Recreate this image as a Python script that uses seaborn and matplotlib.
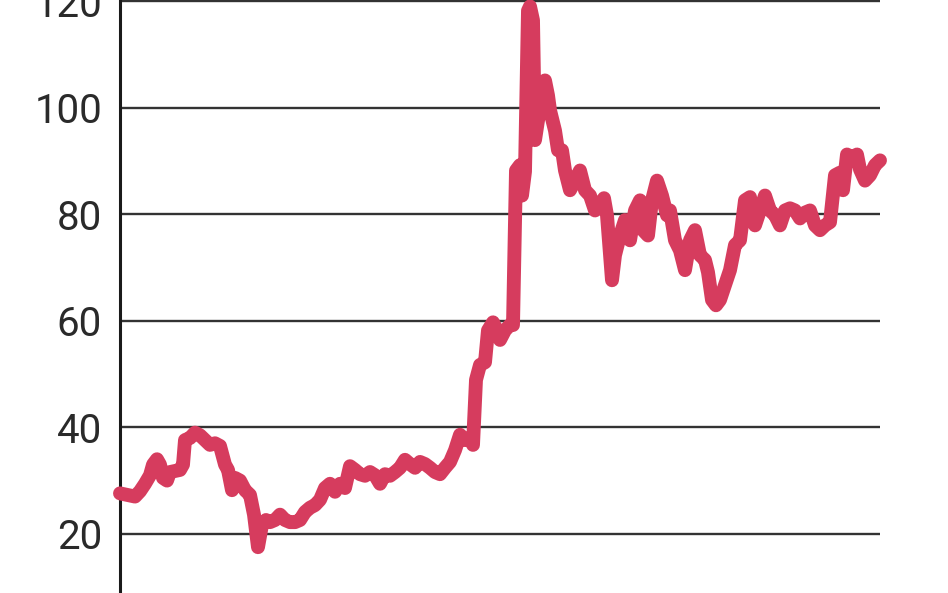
import matplotlib
matplotlib.use("Agg")
import matplotlib.pyplot as plt
import seaborn as sns
import pandas as pd

# time axis (arbitrary units, position along the period) and price values
period = [0, 10, 15, 20, 25, 30, 33, 37, 40, 43, 47, 50, 55, 60, 63, 65, 70, 75,
          80, 85, 90, 95, 100, 105, 108, 112, 115, 120, 125, 130, 134, 138, 142,
          146, 150, 155, 160, 165, 170, 175, 180, 185, 190, 195, 200, 205, 210,
          215, 220, 225, 230, 235, 240, 245, 250, 255, 260, 265, 270, 275, 280,
          285, 290, 295, 300, 305, 310, 315, 320, 325, 330, 335, 340, 345, 350,
          353, 356, 360, 365, 368, 373, 377, 380, 385, 390, 393, 396, 400, 402,
          405, 408, 410, 413, 415, 418, 422, 425, 428, 430, 435, 438, 442, 445,
          450, 455, 460, 465, 470, 475, 480, 484, 487, 492, 495, 500, 505, 510,
          515, 520, 523, 528, 532, 537, 542, 547, 550, 555, 560, 565, 570, 575,
          580, 585, 588, 592, 596, 600, 605, 610, 615, 620, 625, 630, 635, 640,
          645, 650, 655, 660, 665, 670, 675, 680, 685, 690, 695, 700, 705, 710,
          715, 720, 723, 727, 732, 737, 740, 745, 750, 755, 760]
price = [27.6, 27.2, 27.0, 28.0, 29.4, 31.0, 33.0, 34.0, 33.0, 30.5, 30.0, 31.6,
         31.8, 32.0, 33.0, 37.6, 38.0, 39.0, 38.5, 37.6, 36.7, 37.0, 36.5, 33.0,
         32.0, 28.2, 30.5, 30.0, 28.2, 27.3, 23.6, 17.5, 21.7, 22.6, 22.2, 22.6,
         23.6, 22.6, 22.2, 22.2, 22.6, 24.1, 24.9, 25.4, 26.4, 28.6, 29.4, 27.9,
         29.4, 28.6, 32.7, 32.0, 31.2, 30.9, 31.6, 31.0, 29.4, 31.2, 30.9, 31.6,
         32.4, 33.9, 33.1, 32.4, 33.5, 33.1, 32.4, 31.6, 31.2, 32.4, 33.5, 35.7,
         38.6, 37.6, 38.0, 36.7, 48.9, 51.7, 52.2, 58.2, 59.7, 58.2, 56.4, 58.2,
         59.2, 59.2, 88.2, 89.2, 83.5, 88.0, 118.2, 119.0, 116.4, 93.9, 97.6,
         101.3, 105.1, 102.3, 99.5, 95.7, 92.0, 92.0, 88.2, 84.5, 86.3, 88.2,
         84.5, 83.5, 80.7, 81.7, 83.0, 79.8, 67.6, 72.3, 76.0, 78.9, 75.1, 80.7,
         82.6, 77.0, 76.0, 82.6, 86.3, 83.5, 79.8, 80.7, 75.1, 73.2, 69.5, 75.1,
         77.0, 72.3, 71.4, 69.1, 63.9, 62.9, 63.9, 66.7, 69.5, 74.2, 75.1, 82.6,
         83.2, 77.9, 80.7, 83.5, 80.7, 79.8, 77.9, 80.7, 81.1, 80.7, 79.2, 80.3,
         80.7, 77.9, 77.0, 77.9, 78.5, 87.3, 87.8, 84.5, 91.2, 90.6, 91.2, 88.4,
         86.3, 87.3, 89.2, 90.1]
y_ticks = [20, 40, 60, 80, 100, 120]
y_tick_labels = ["20", "40", "60", "80", "100", "120"]

df = pd.DataFrame({"period": period, "price": price})

sns.set_style("white")
plt.rcParams["font.family"] = ["Roboto", "DejaVu Sans"]

fig = plt.figure(figsize=(9.48, 5.93), dpi=100)
ax = fig.add_axes([120 / 948, 0.0, 760 / 948, 1.0])

for yv in y_ticks:
    ax.axhline(yv, color="#333333", lw=1.7, zorder=1)

sns.lineplot(data=df, x="period", y="price", ax=ax, color="#d63c5e", lw=10,
             solid_joinstyle="round", solid_capstyle="round", zorder=3,
             clip_on=False)

ax.set_xlim(min(period), max(period))
ax.set_ylim(8.9, 120.2)
ax.set_yticks(y_ticks)
ax.set_yticklabels(y_tick_labels, fontsize=29, color="#2a2a2a",
                   fontweight="normal", fontstretch="condensed")
ax.tick_params(axis="y", length=0, pad=13)
ax.set_xticks([])
ax.set_xlabel("")
ax.set_ylabel("")
for side in ["top", "right", "bottom"]:
    ax.spines[side].set_visible(False)
ax.spines["left"].set_color("#1a1a1a")
ax.spines["left"].set_linewidth(2.2)
ax.grid(False)

fig.savefig("out.png", dpi=100, facecolor="white")
